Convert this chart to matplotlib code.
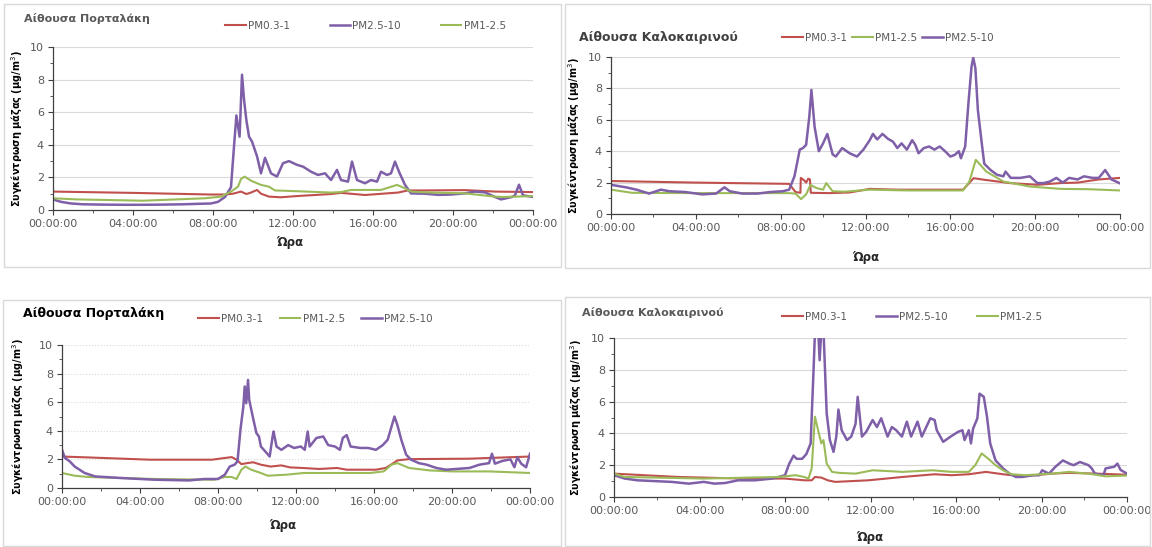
import matplotlib
matplotlib.use("Agg")
import matplotlib.pyplot as plt
from matplotlib.patches import Rectangle

# ---- data (hours of day, mass concentration ug/m3) ----
# top left: Αίθουσα Πορταλάκη
p1_pm03_t = [0, 4, 7.9, 8.6, 9.0, 9.4, 9.67, 9.9, 10.2, 10.4, 10.8, 11.4, 12.25, 13.1, 13.9, 14.4, 15.6, 17.25, 17.75, 18.5, 20.6, 22.1, 24]
p1_pm03_v = [1.13, 1.05, 0.95, 0.95, 1.0, 1.13, 0.98, 1.07, 1.23, 1.0, 0.82, 0.78, 0.86, 0.92, 0.98, 1.05, 0.92, 1.07, 1.2, 1.2, 1.22, 1.13, 1.1]
p1_pm25_t = [0, 0.4, 0.9, 1.5, 2.5, 3.5, 4.5, 5.5, 6.5, 7.3, 7.9, 8.25, 8.6, 8.9, 9.05, 9.17, 9.33, 9.45, 9.55, 9.67, 9.8, 9.95,
             10.2, 10.4, 10.6, 10.9, 11.2, 11.5, 11.8, 12.2, 12.5, 12.9, 13.25, 13.6, 13.9, 14.2, 14.4, 14.75, 14.95, 15.2, 15.6,
             15.9, 16.2, 16.4, 16.7, 16.9, 17.1, 17.3, 17.6, 17.9, 18.6, 19.25, 19.9, 20.6, 21.1, 21.6, 22.1, 22.4, 22.95, 23.1,
             23.3, 23.5, 24]
p1_pm25_v = [0.65, 0.5, 0.4, 0.35, 0.33, 0.32, 0.32, 0.33, 0.35, 0.38, 0.4, 0.5, 0.8, 1.4, 3.9, 5.8, 4.5, 8.3, 6.8, 5.5, 4.5, 4.2,
             3.3, 2.25, 3.2, 2.25, 2.05, 2.87, 3.0, 2.77, 2.66, 2.35, 2.15, 2.25, 1.84, 2.46, 1.84, 1.74, 2.97, 1.84, 1.64,
             1.84, 1.74, 2.35, 2.15, 2.25, 2.97, 2.35, 1.54, 1.02, 1.0, 0.93, 0.95, 1.02, 1.13, 1.08, 0.8, 0.65, 0.8, 0.9,
             1.55, 0.9, 0.8]
p1_pm1_t = [0, 1.2, 4.5, 7.6, 8.4, 8.9, 9.25, 9.4, 9.58, 9.9, 10.4, 10.8, 11.1, 12.25, 13.9, 14.4, 14.9, 16.4, 17.2, 17.6, 17.9, 18.9, 20.6, 22.1, 22.5, 24]
p1_pm1_v = [0.72, 0.65, 0.57, 0.72, 0.82, 1.13, 1.43, 1.9, 2.05, 1.8, 1.54, 1.43, 1.2, 1.15, 1.07, 1.1, 1.23, 1.23, 1.54, 1.33, 1.13, 1.07, 1.02, 0.82, 0.8, 0.85]

# top right: Αίθουσα Καλοκαιρινού
p2_pm03_t = [0, 4, 8.4, 8.7, 8.93, 8.95, 9.1, 9.2, 9.3, 9.38, 9.42, 10.3, 11.25, 12.2, 13.5, 15.0, 16.6, 17.1, 17.6, 18.8, 20.1, 21.2, 22, 23, 24]
p2_pm03_v = [2.1, 2.0, 1.92, 1.4, 1.35, 2.3, 2.15, 2.0, 2.25, 2.2, 1.35, 1.33, 1.37, 1.6, 1.55, 1.55, 1.55, 2.28, 2.18, 1.97, 1.86, 1.97, 2.0, 2.2, 2.3]
p2_pm1_t = [0, 1, 4, 8.4, 8.7, 8.96, 9.2, 9.4, 9.7, 10.0, 10.15, 10.45, 11.0, 12.2, 14.0, 16.6, 16.9, 17.2, 17.7, 18.5, 19.75, 21.2, 22.5, 24]
p2_pm1_v = [1.55, 1.35, 1.33, 1.33, 1.3, 0.95, 1.25, 1.85, 1.65, 1.55, 1.97, 1.45, 1.42, 1.55, 1.5, 1.5, 2.07, 3.45, 2.7, 2.07, 1.75, 1.6, 1.58, 1.5]
p2_pm25_t = [0, 0.7, 1.2, 1.8, 2.35, 2.75, 3.5, 4.3, 4.95, 5.35, 5.6, 6.2, 6.9, 7.5, 8.1, 8.4, 8.65, 8.9, 9.05, 9.2, 9.35, 9.45,
             9.6, 9.8, 10.0, 10.2, 10.45, 10.6, 10.9, 11.25, 11.6, 11.9, 12.2, 12.35, 12.55, 12.8, 13.05, 13.3, 13.5, 13.7, 13.95,
             14.2, 14.35, 14.5, 14.75, 15.0, 15.25, 15.5, 15.75, 16.0, 16.2, 16.4, 16.5, 16.7, 16.85, 17.0, 17.08, 17.18, 17.3,
             17.5, 17.6, 17.9, 18.2, 18.5, 18.6, 18.85, 19.3, 19.75, 20.1, 20.4, 20.7, 21.0, 21.3, 21.6, 22.0, 22.3, 22.7, 23.0,
             23.3, 23.6, 24]
p2_pm25_v = [1.86, 1.7, 1.55, 1.3, 1.55, 1.45, 1.4, 1.25, 1.3, 1.7, 1.45, 1.3, 1.3, 1.4, 1.45, 1.55, 2.4, 4.1, 4.2, 4.4, 6.2, 7.9,
             5.55, 4.0, 4.5, 5.1, 3.8, 3.66, 4.2, 3.87, 3.66, 4.1, 4.7, 5.1, 4.75, 5.1, 4.8, 4.6, 4.2, 4.5, 4.1,
             4.7, 4.4, 3.87, 4.2, 4.3, 4.1, 4.3, 4.0, 3.66, 3.76, 4.0, 3.55, 4.3, 7.0, 9.4, 9.95, 9.3, 6.6,
             4.3, 3.2, 2.8, 2.5, 2.4, 2.7, 2.3, 2.3, 2.4, 1.97, 1.97, 2.07, 2.3, 2.0, 2.3, 2.2, 2.4, 2.3, 2.3,
             2.8, 2.2, 1.95]

# bottom left: Αίθουσα Πορταλάκη
p3_pm03_t = [0, 1.3, 4.5, 7.7, 8.35, 8.7, 8.95, 9.2, 9.5, 9.8, 10.2, 10.7, 11.25, 11.7, 12.35, 13.2, 14.1, 14.6, 16.1, 16.6, 16.95, 17.2, 17.8, 20.9, 21.9, 24]
p3_pm03_v = [2.2, 2.14, 1.98, 1.98, 2.1, 2.16, 1.98, 1.67, 1.74, 1.8, 1.63, 1.5, 1.58, 1.44, 1.4, 1.33, 1.4, 1.28, 1.28, 1.4, 1.7, 1.93, 2.02, 2.05, 2.1, 2.2]
p3_pm1_t = [0, 0.65, 1.33, 4.75, 7.8, 8.35, 8.7, 8.95, 9.2, 9.4, 9.7, 10.2, 10.55, 11.5, 12.4, 15.8, 16.5, 16.9, 17.2, 17.8, 18.85, 20.0, 21.9, 24]
p3_pm1_v = [1.05, 0.86, 0.77, 0.63, 0.58, 0.77, 0.77, 0.63, 1.28, 1.5, 1.28, 1.05, 0.86, 0.93, 1.05, 1.05, 1.16, 1.63, 1.74, 1.4, 1.23, 1.16, 1.16, 1.05]
p3_pm25_t = [0, 0.15, 0.4, 0.65, 1.16, 1.7, 3.0, 4.75, 6.5, 7.3, 8.0, 8.35, 8.6, 8.85, 9.0, 9.15, 9.3, 9.37, 9.45, 9.54, 9.6, 9.8,
             9.97, 10.1, 10.2, 10.5, 10.65, 10.8, 10.85, 11.0, 11.25, 11.6, 11.9, 12.25, 12.45, 12.6, 12.7, 13.05, 13.4, 13.65,
             14.0, 14.25, 14.4, 14.6, 14.8, 15.3, 15.7, 16.1, 16.45, 16.7, 16.9, 17.05, 17.2, 17.4, 17.65, 17.9, 18.3, 18.7,
             19.2, 19.7, 20.2, 20.9, 21.4, 21.9, 22.05, 22.2, 22.6, 23.0, 23.2, 23.35, 23.55, 23.8, 24]
p3_pm25_v = [2.67, 2.1, 1.86, 1.5, 1.05, 0.81, 0.7, 0.58, 0.53, 0.63, 0.63, 0.93, 1.5, 1.63, 1.86, 4.07, 5.7, 7.1, 5.93, 7.56, 6.16, 4.88,
             3.84, 3.6, 2.9, 2.44, 2.2, 3.6, 3.95, 2.9, 2.67, 3.0, 2.8, 2.9, 2.67, 3.95, 2.9, 3.5, 3.6, 3.0,
             2.9, 2.67, 3.5, 3.7, 2.9, 2.8, 2.8, 2.67, 3.0, 3.37, 4.3, 5.0, 4.4, 3.37, 2.33, 1.98, 1.74, 1.63,
             1.4, 1.28, 1.33, 1.4, 1.63, 1.74, 2.4, 1.7, 1.9, 2.0, 1.45, 2.15, 1.7, 1.45, 2.4]

# bottom right: Αίθουσα Καλοκαιρινού
p4_pm03_t = [0, 3, 6, 8.0, 8.9, 9.25, 9.4, 9.7, 10.0, 10.35, 11.9, 13.5, 15.0, 15.8, 16.6, 17.4, 18.2, 19.1, 20.5, 21.3, 23, 24]
p4_pm03_v = [1.47, 1.26, 1.16, 1.16, 1.05, 1.05, 1.26, 1.22, 1.05, 0.95, 1.05, 1.26, 1.43, 1.37, 1.43, 1.58, 1.43, 1.3, 1.47, 1.52, 1.45, 1.4]
p4_pm25_t = [0, 0.5, 1.1, 2.7, 3.5, 4.2, 4.7, 5.2, 5.8, 6.6, 7.4, 7.7, 8.0, 8.2, 8.4, 8.55, 8.8, 9.0, 9.2, 9.33, 9.42, 9.52,
             9.62, 9.72, 9.8, 9.95, 10.1, 10.27, 10.4, 10.5, 10.65, 10.9, 11.1, 11.3, 11.4, 11.6, 11.8, 12.1, 12.3, 12.5, 12.8,
             13.0, 13.2, 13.47, 13.7, 13.9, 14.2, 14.4, 14.8, 15.0, 15.1, 15.4, 15.75, 16.1, 16.3, 16.4, 16.6, 16.7, 16.8,
             17.0, 17.1, 17.3, 17.45, 17.6, 17.85, 18.2, 18.5, 18.8, 19.1, 19.6, 19.9, 20.03, 20.35, 20.65, 21.0, 21.3, 21.5,
             21.8, 22.2, 22.35, 22.5, 22.9, 23.0, 23.4, 23.55, 23.7, 24]
p4_pm25_v = [1.37, 1.16, 1.05, 0.95, 0.84, 0.95, 0.84, 0.88, 1.05, 1.05, 1.16, 1.26, 1.37, 2.1, 2.6, 2.4, 2.4, 2.7, 3.37, 7.8, 11.0, 11.5,
             8.6, 11.0, 10.5, 5.26, 3.58, 2.84, 3.8, 5.5, 4.2, 3.58, 3.8, 4.6, 6.3, 3.8, 4.1, 4.84, 4.4, 4.95, 3.8,
             4.4, 4.2, 3.8, 4.74, 3.8, 4.74, 3.8, 4.95, 4.84, 4.2, 3.47, 3.8, 4.1, 4.2, 3.58, 4.2, 3.37, 4.3,
             4.95, 6.5, 6.3, 5.05, 3.37, 2.3, 1.8, 1.47, 1.26, 1.26, 1.37, 1.37, 1.68, 1.47, 1.9, 2.3, 2.1, 2.0,
             2.2, 2.0, 1.8, 1.47, 1.37, 1.8, 1.9, 2.1, 1.7, 1.47]
p4_pm1_t = [0, 0.5, 4.2, 7.7, 8.5, 8.9, 9.1, 9.25, 9.4, 9.55, 9.7, 9.8, 9.95, 10.2, 10.5, 11.3, 12.1, 13.5, 14.9, 15.8, 16.6, 16.9,
            17.2, 17.5, 17.85, 18.2, 18.6, 19.25, 20.5, 21.3, 22.3, 23.0, 24]
p4_pm1_v = [1.47, 1.26, 1.16, 1.26, 1.37, 1.26, 1.16, 1.8, 5.05, 4.2, 3.37, 3.58, 2.1, 1.58, 1.52, 1.47, 1.68, 1.58, 1.68, 1.58, 1.58, 2.0,
            2.74, 2.42, 2.0, 1.68, 1.43, 1.37, 1.47, 1.58, 1.45, 1.3, 1.35]

hour_ticks = [0, 4, 8, 12, 16, 20, 24]
hour_labels = ["00:00:00", "04:00:00", "08:00:00", "12:00:00", "16:00:00", "20:00:00", "00:00:00"]

RED = "#c0504d"
GREEN = "#9bbb59"
PURPLE = "#7e5fa8"
GRAY = "#595959"

W, H = 1152, 547
fig = plt.figure(figsize=(W / 100, H / 100), dpi=100)
fig.patch.set_facecolor("white")


def px_axes(left, top, right, bottom):
    return fig.add_axes([left / W, 1 - bottom / H, (right - left) / W, (bottom - top) / H])


def frame(x0, y0, x1, y1):
    fig.add_artist(Rectangle((x0 / W, 1 - y1 / H), (x1 - x0) / W, (y1 - y0) / H,
                             transform=fig.transFigure, fill=False, edgecolor="#d9d9d9", lw=1))


def panel(rect, series, title, title_xy, title_kw, leg_xy, leg_gap, ylab_x, xlab_xy, grid_ls="-"):
    ax = px_axes(*rect)
    for t, v, c, lab, lw in series:
        ax.plot(t, v, color=c, lw=lw, label=lab)
    ax.set_xlim(0, 24)
    ax.set_ylim(0, 10)
    ax.set_xticks(hour_ticks)
    ax.set_xticklabels(hour_labels)
    ax.set_xticks(range(0, 25, 2), minor=True)
    ax.set_yticks(range(0, 11, 2))
    ax.set_yticks(range(0, 11, 1), minor=True)
    ax.grid(axis="y", color="#d9d9d9", lw=0.8, ls=grid_ls)
    ax.set_axisbelow(True)
    for s in ["top", "right"]:
        ax.spines[s].set_visible(False)
    for s in ["left", "bottom"]:
        ax.spines[s].set_color("#404040")
        ax.spines[s].set_linewidth(0.9)
    ax.tick_params(which="both", direction="out", color="#404040", labelcolor=GRAY, labelsize=8, pad=3)
    ax.tick_params(which="major", length=3.5)
    ax.tick_params(which="minor", length=2.5)
    fig.text(title_xy[0] / W, 1 - title_xy[1] / H, title, ha="left", va="center", fontweight="bold", **title_kw)
    fig.text(ylab_x / W, 1 - (rect[1] + rect[3]) / 2 / H, "Συγκέντρωση μάζας (μg/m$^3$)",
             rotation=90, ha="center", va="center", fontsize=7, fontweight="bold", color="black")
    fig.text(xlab_xy[0] / W, 1 - xlab_xy[1] / H, "Ώρα", ha="center", va="center",
             fontsize=8.5, fontweight="bold", color="#262626")
    fig.legend(*ax.get_legend_handles_labels(), loc="center left",
               bbox_to_anchor=(leg_xy[0] / W, 1 - leg_xy[1] / H), ncol=3, frameon=False,
               fontsize=7.5, handlelength=2.0, handletextpad=0.2, columnspacing=leg_gap,
               labelcolor=GRAY, borderpad=0, borderaxespad=0)
    return ax


# panel frames (screenshot borders)
frame(4, 4, 561, 267)
frame(565, 4, 1150, 268)
frame(3, 300, 561, 546)
frame(565, 297, 1150, 546)

# Top left
panel((53, 47, 533, 210),
      [(p1_pm03_t, p1_pm03_v, RED, "PM0.3-1", 1.5),
       (p1_pm25_t, p1_pm25_v, PURPLE, "PM2.5-10", 1.8),
       (p1_pm1_t, p1_pm1_v, GREEN, "PM1-2.5", 1.5)],
      "Αίθουσα Πορταλάκη", (24, 18), dict(fontsize=8, color=GRAY),
      (225, 26), 3.8, 17, (290, 242))

# Top right
panel((611, 57, 1120, 214),
      [(p2_pm03_t, p2_pm03_v, RED, "PM0.3-1", 1.5),
       (p2_pm1_t, p2_pm1_v, GREEN, "PM1-2.5", 1.5),
       (p2_pm25_t, p2_pm25_v, PURPLE, "PM2.5-10", 1.8)],
      "Αίθουσα Καλοκαιρινού", (579, 38), dict(fontsize=9, color="#404040"),
      (782, 38), 0.5, 574, (866, 257))

# Bottom left
panel((62, 345, 530, 488),
      [(p3_pm03_t, p3_pm03_v, RED, "PM0.3-1", 1.5),
       (p3_pm1_t, p3_pm1_v, GREEN, "PM1-2.5", 1.5),
       (p3_pm25_t, p3_pm25_v, PURPLE, "PM2.5-10", 1.8)],
      "Αίθουσα Πορταλάκη", (23, 313), dict(fontsize=9, color="black"),
      (198, 319), 1.6, 18, (283, 525), grid_ls=":")

# Bottom right
panel((614, 338, 1127, 497),
      [(p4_pm03_t, p4_pm03_v, RED, "PM0.3-1", 1.5),
       (p4_pm25_t, p4_pm25_v, PURPLE, "PM2.5-10", 1.8),
       (p4_pm1_t, p4_pm1_v, GREEN, "PM1-2.5", 1.5)],
      "Αίθουσα Καλοκαιρινού", (582, 313), dict(fontsize=8, color=GRAY),
      (782, 317), 2.8, 576, (870, 538))

fig.savefig("out.png", dpi=100)
